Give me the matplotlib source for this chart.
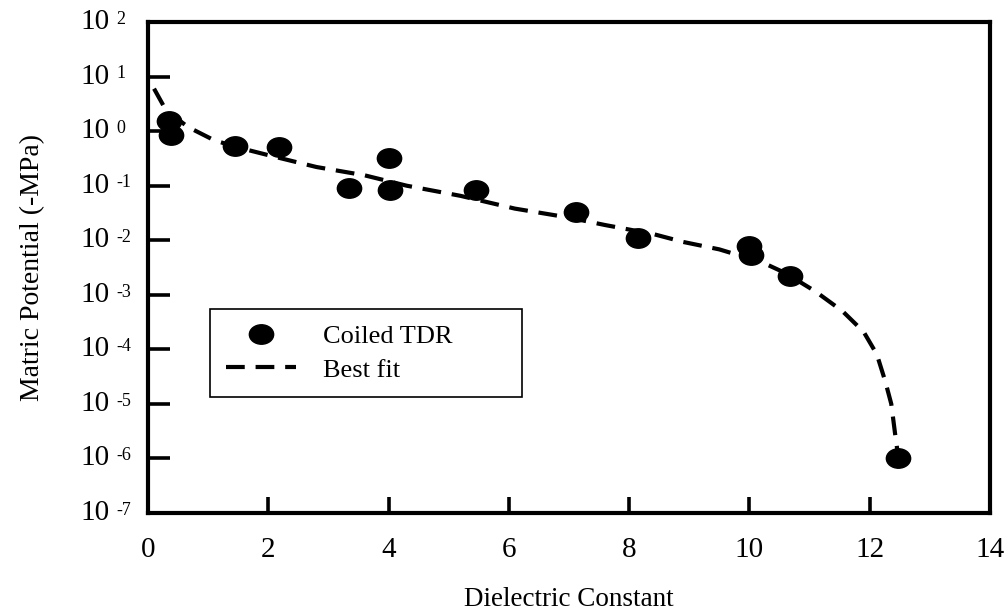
import numpy as np
import matplotlib.pyplot as plt
from matplotlib.path import Path
from matplotlib.transforms import Affine2D

plt.rcParams['font.family'] = ['Liberation Serif', 'DejaVu Serif']

# measured points (Coiled TDR)
meas_x = [0.35, 0.38, 1.45, 2.18, 3.34, 4.00, 4.03, 5.45, 7.12, 8.14, 9.99, 10.02, 10.67, 12.47]
meas_y = [1.55, 0.86, 0.53, 0.52, 0.092, 0.32, 0.085, 0.085, 0.033, 0.0108, 0.0078, 0.0054, 0.0022, 1.0e-6]

# best fit curve
fit_x = [0.1, 0.3, 0.67, 1.1, 1.5, 2.1, 2.8, 3.6, 4.3, 5.2, 6.1, 7.0, 7.6, 8.4, 8.9,
         9.5, 9.9, 10.2, 10.6, 11.1, 11.55, 11.9, 12.12, 12.26, 12.36, 12.43, 12.47]
fit_y = [6.0, 2.4, 1.18, 0.68, 0.5, 0.34, 0.22, 0.155, 0.10, 0.065, 0.038, 0.026, 0.019,
         0.013, 0.0093, 0.0068, 0.005, 0.004, 0.0025, 0.00115, 0.0005, 0.00021, 8.1e-5,
         2.6e-5, 1.0e-5, 2.5e-6, 1.2e-6]

x_ticks = [0, 2, 4, 6, 8, 10, 12, 14]
y_exps = [2, 1, 0, -1, -2, -3, -4, -5, -6, -7]

fig = plt.figure(figsize=(10.07, 6.13), dpi=100)
ax = fig.add_axes([0.147, 0.1631, 0.836, 0.801])

ell = Path.unit_circle().transformed(Affine2D().scale(1.25, 1.0))
ax.plot(meas_x, meas_y, linestyle='none', marker=ell, ms=17.5, color='black',
        label='Coiled TDR', zorder=3)
ax.plot(fit_x, fit_y, color='black', lw=3, dashes=(4.5, 2.6), label='Best fit', zorder=2)

ax.set_yscale('log')
ax.set_xlim(0, 14)
ax.set_ylim(1e-7, 1e2)
ax.set_xticks(x_ticks)
ax.set_xticklabels([str(t) for t in x_ticks])
ax.set_yticks([10.0 ** e for e in y_exps])
ax.set_yticklabels([])
ax.yaxis.set_minor_locator(plt.NullLocator())

# y tick labels: "10" with a small raised exponent
for e in y_exps:
    ax.annotate('10', xy=(0, 10.0 ** e), xycoords=('axes fraction', 'data'),
                xytext=(-27.5, 0), textcoords='offset points',
                ha='right', va='center', fontsize=21, annotation_clip=False)
    ax.annotate(str(e), xy=(0, 10.0 ** e), xycoords=('axes fraction', 'data'),
                xytext=(-23, 2), textcoords='offset points',
                ha='left', va='center', fontsize=13, annotation_clip=False)

for s in ax.spines.values():
    s.set_linewidth(3)
ax.tick_params(axis='x', direction='in', length=11.5, width=2.6, labelsize=21, pad=17)
ax.tick_params(axis='y', direction='in', length=16, width=2.6)

ax.set_xlabel('Dielectric Constant', fontsize=19.5)
ax.xaxis.set_label_coords(0.5, -0.15)
ax.set_ylabel('Matric Potential (-MPa)', fontsize=20)
ax.yaxis.set_label_coords(-0.122, 0.5)

leg = ax.legend(loc='upper left', bbox_to_anchor=(0.0736, 0.236, 0.3705, 0.18),
                mode='expand', fontsize=19,
                frameon=True, fancybox=False, edgecolor='black', framealpha=1,
                handlelength=2.65, borderpad=0.6, labelspacing=0.38, handletextpad=1.05,
                borderaxespad=0)
leg.get_frame().set_linewidth(1.2)

fig.savefig('out.png', dpi=100)
